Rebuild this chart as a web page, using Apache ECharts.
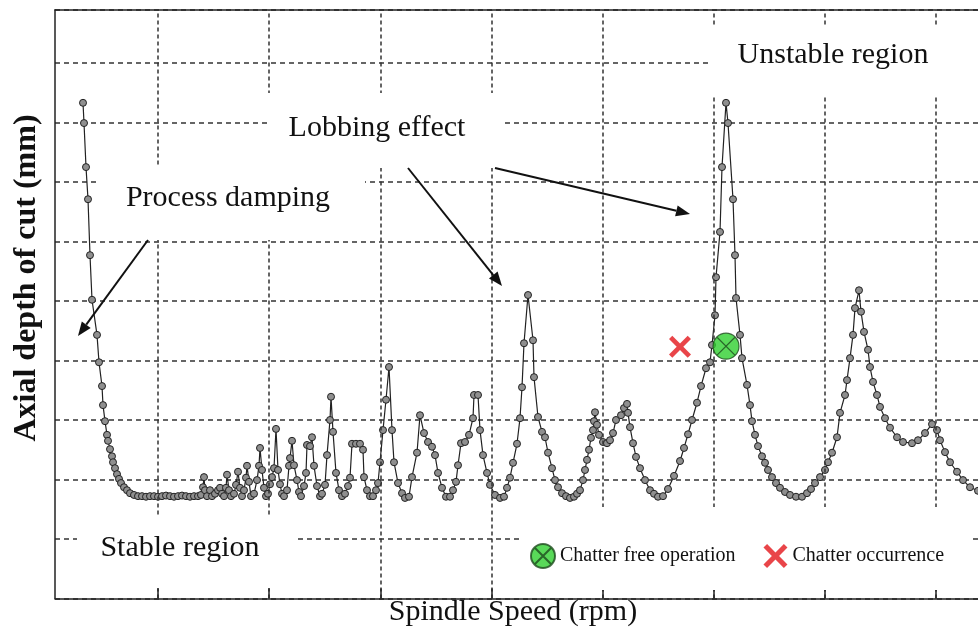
<!DOCTYPE html>
<html>
<head>
<meta charset="utf-8">
<script src="https://cdn.jsdelivr.net/npm/echarts@6/dist/echarts.min.js"></script>
<style>
html,body{margin:0;padding:0;background:#fff;}
#chart{width:978px;height:635px;}
</style>
</head>
<body>
<div id="chart"></div>
<script>
// Spindle speed (rpm) of each computed stability-limit point
const speedRpm = [
 324,333,351,369,387,405,450,468,495,504,522,540,549,567,585,594,612,630,648,666,693,720,747,783,819,
 855,891,927,963,999,1035,1071,1107,1143,1179,1215,1251,1287,1323,1359,
 1386,1404,1413,1422,1440,1467,1485,1512,1539,1557,1575,1593,1611,1620,1638,1656,1683,1701,1719,1737,
 1755,1773,1791,1800,1818,1836,1863,1890,1908,1917,1935,1953,1971,1989,2007,2025,2043,2061,2079,2097,
 2115,2133,2160,2178,2187,2205,2223,2250,2268,2286,2313,2331,2340,2367,2385,2403,2430,2457,2475,2502,
 2520,2547,2556,2574,2601,2628,2655,2682,2709,2727,2745,2781,2817,2844,2853,2880,2907,2934,2961,2979,
 2997,3024,3051,3078,3105,3123,3159,3195,3222,3258,3285,3330,3357,3393,3429,3465,3492,3519,3555,3591,
 3627,3654,3681,3699,3726,3762,3798,3834,3843,3879,3897,3924,3960,3987,4032,4077,4113,4140,4167,4194,
 4230,4257,4275,4293,4329,4374,4383,4419,4455,4482,4509,4545,4572,4599,4635,4671,4707,4743,4770,4797,
 4824,4842,4860,4878,4896,4914,4923,4932,4950,4968,5004,5040,5067,5094,5121,5166,5193,5220,5229,5247,
 5274,5301,5337,5382,5427,5463,5499,5544,5589,5643,5697,5733,5769,5805,5850,5886,5931,5967,5985,6012,
 6021,6057,6075,6111,6129,6174,6192,6201,6237,6255,6300,6327,6345,6372,6399,6435,6462,6489,6525,6561,
 6597,6642,6687,6741,6795,6840,6876,6912,6957,7002,7029,7065,7110,7137,7182,7200,7227,7254,7272,7308,
 7326,7353,7389,7407,7434,7470,7497,7542,7587,7650,7704,7785,7839,7902,7965,8010,8037,8082,8127,8190,
 8244,8307,8379,8451
];
// Limiting axial depth of cut (mm) at each speed
const depthMm = [
 8.33,7.99,7.25,6.71,5.77,5.02,4.43,3.97,3.57,3.25,2.98,2.75,2.65,2.51,2.39,2.29,2.19,2.09,2.01,1.94,1.87,1.82,1.77,1.74,1.72,
 1.72,1.71,1.72,1.72,1.71,1.72,1.73,1.72,1.71,1.72,1.73,1.72,1.71,1.72,1.72,
 1.74,1.87,2.04,1.82,1.72,1.82,1.72,1.76,1.82,1.86,1.76,1.72,1.86,2.08,1.82,1.72,1.76,1.91,2.13,1.86,
 1.72,1.82,2.03,2.23,1.96,1.72,1.76,1.99,2.23,2.53,2.16,1.86,1.72,1.76,1.92,2.04,2.19,2.85,2.16,1.92,
 1.76,1.72,1.82,2.23,2.36,2.65,2.24,1.99,1.79,1.72,1.89,2.11,2.58,2.56,2.71,2.23,1.89,1.72,1.76,1.91,
 2.41,3.00,3.39,2.80,2.11,1.82,1.72,1.76,1.89,2.03,2.60,2.60,2.60,2.50,2.04,1.82,1.72,1.72,1.82,1.94,
 2.29,2.83,3.34,3.89,2.83,2.29,1.94,1.77,1.69,1.71,2.04,2.45,3.08,2.78,2.63,2.55,2.41,2.11,1.86,1.71,
 1.71,1.82,1.96,2.24,2.61,2.63,2.75,3.03,3.42,3.42,2.83,2.41,2.11,1.91,1.74,1.69,1.71,1.86,2.03,2.28,
 2.60,3.03,3.55,4.29,5.10,4.34,3.72,3.05,2.80,2.71,2.45,2.19,1.99,1.87,1.77,1.72,1.69,1.71,1.76,1.82,
 1.99,2.16,2.33,2.50,2.70,2.83,2.98,3.13,2.92,2.75,2.63,2.61,2.66,2.78,3.00,3.08,3.20,3.27,3.12,2.88,
 2.61,2.38,2.19,1.99,1.82,1.76,1.71,1.72,1.84,2.06,2.31,2.53,2.76,3.00,3.29,3.57,3.87,3.97,4.26,4.76,
 5.40,6.16,7.25,8.33,7.99,6.71,5.77,5.05,4.43,4.04,3.59,3.25,2.98,2.75,2.56,2.39,2.28,2.16,2.04,1.94,
 1.86,1.79,1.74,1.71,1.71,1.77,1.84,1.94,2.04,2.16,2.29,2.45,2.71,3.12,3.42,3.67,4.04,4.43,4.88,5.18,
 4.82,4.48,4.18,3.89,3.64,3.42,3.22,3.03,2.87,2.71,2.63,2.61,2.66,2.78,2.93,2.83,2.66,2.46,2.29,2.13,
 1.99,1.87,1.81,1.76
];
// Test cuts
const chatterFreeRpm = [6111];
const chatterFreeDepth = [4.24];
const chatterRpm = [5697];
const chatterDepth = [4.23];
// Speed grid/tick positions (rpm)
const speedTicks = [1000,2000,3000,4000,5000,6000,7000,8000];

const SERIF = '"Liberation Serif","Times New Roman",serif';
const X_MIN = 72, X_MAX = 8379;

function arrow(x1, y1, x2, y2) {
  const dx = x2 - x1, dy = y2 - y1, L = Math.hypot(dx, dy);
  const ux = dx / L, uy = dy / L, hl = 14, hw = 5.5;
  const bx = x2 - ux * hl, by = y2 - uy * hl;
  const nx = -uy, ny = ux;
  return [
    {type:'line', z:20, shape:{x1:x1, y1:y1, x2:bx, y2:by}, style:{stroke:'#111', lineWidth:2}},
    {type:'polygon', z:20, shape:{points:[[x2,y2],[bx+nx*hw,by+ny*hw],[bx-nx*hw,by-ny*hw]]}, style:{fill:'#111'}}
  ];
}
function box(x, y, w, h) {
  return {type:'rect', z:10, shape:{x:x, y:y, width:w, height:h}, style:{fill:'#fff'}};
}
function label(text, x, y, size, weight, rot) {
  return {type:'text', z:20, x:x, y:y, rotation: rot || 0,
    style:{text:text, x:0, y:0, align:'center', verticalAlign:'middle',
      fill:'#111', font: (weight||'normal') + ' ' + size + 'px ' + SERIF}};
}

const curve = speedRpm.map((s, i) => [s, depthMm[i]]);
const hiddenAxisParts = {axisTick:{show:false}, axisLabel:{show:false}, splitLine:{show:false}};

const chart = echarts.init(document.getElementById('chart'), null, {renderer:'canvas'});
chart.setOption({
  animation: false,
  backgroundColor: '#fff',
  grid: {left:55, top:10, right:0, bottom:36.5, show:false},
  xAxis: [
    Object.assign({type:'value', min:X_MIN, max:X_MAX, position:'bottom',
      axisLine:{show:true, lineStyle:{color:'#222', width:1.5}}}, hiddenAxisParts),
    Object.assign({type:'value', min:X_MIN, max:X_MAX, position:'top',
      axisLine:{show:true, lineStyle:{color:'#222', width:1.5}}}, hiddenAxisParts)
  ],
  yAxis: {type:'value', min:0, max:9.89, interval:1,
    axisLine:{show:true, lineStyle:{color:'#222', width:1.5}},
    axisTick:{show:false}, axisLabel:{show:false},
    splitLine:{show:true, lineStyle:{color:'#333', width:1.5, type:[5,4]}}},
  legend: {
    left: 525, top: 538, z: 30, selectedMode: false,
    itemWidth: 24, itemHeight: 24, itemGap: 28,
    textStyle: {fontFamily: SERIF, fontSize: 20, color:'#111'},
    data: ['Chatter free operation', 'Chatter occurrence']
  },
  series: [
    {
      name: 'grid', type: 'line', data: [], z: 1, silent: true,
      markLine: {
        silent: true, symbol: ['none','none'], label:{show:false}, animation:false,
        lineStyle: {color:'#333', width:1.5, type:[4,3]},
        data: speedTicks.map(v => ({xAxis: v})).concat(
          speedTicks.map(v => [{coord:[v, 0], lineStyle:{type:'solid', width:1.5, color:'#222'}}, {coord:[v, 0.17]}]))
      }
    },
    {
      name: 'Stability limit', type: 'line', data: curve, z: 3,
      symbol: 'circle', symbolSize: 7, showAllSymbol: true,
      itemStyle: {color:'#8f8f8f', borderColor:'#222', borderWidth:1},
      lineStyle: {color:'#222', width:1.2}
    },
    {
      name: 'Chatter free operation', type: 'scatter', z: 5,
      data: chatterFreeRpm.map((s, i) => [s, chatterFreeDepth[i]]),
      symbol: 'path://M0,10 A10,10 0 1,0 20,10 A10,10 0 1,0 0,10 Z M2.93,2.93 L17.07,17.07 M17.07,2.93 L2.93,17.07',
      symbolSize: 26,
      itemStyle: {color:'#2fcf2f', borderColor:'#1d4a1d', borderWidth:1.2}
    },
    {
      name: 'Chatter occurrence', type: 'scatter', z: 5,
      data: chatterRpm.map((s, i) => [s, chatterDepth[i]]),
      symbol: 'path://M3,0 L10,7 L17,0 L20,3 L13,10 L20,17 L17,20 L10,13 L3,20 L0,17 L7,10 L0,3 Z',
      symbolSize: 22,
      itemStyle: {color:'#e3161b'}
    }
  ],
  graphic: [
    box(711, 25, 290, 72),
    box(267, 93, 238, 75),
    box(100, 165, 265, 75),
    box(77, 515, 220, 73),
    box(523, 507, 450, 83),
    label('Unstable region', 833, 55, 30),
    label('Lobbing effect', 377, 128, 30),
    label('Process damping', 228, 198, 30),
    label('Stable region', 180, 548, 30),
    label('Spindle Speed (rpm)', 513, 612, 30),
    label('Axial depth of cut (mm)', 27, 278, 32, 'bold', Math.PI / 2)
  ].concat(arrow(148, 240, 78, 336), arrow(408, 168, 502, 286), arrow(495, 168, 690, 214))
});
</script>
</body>
</html>
